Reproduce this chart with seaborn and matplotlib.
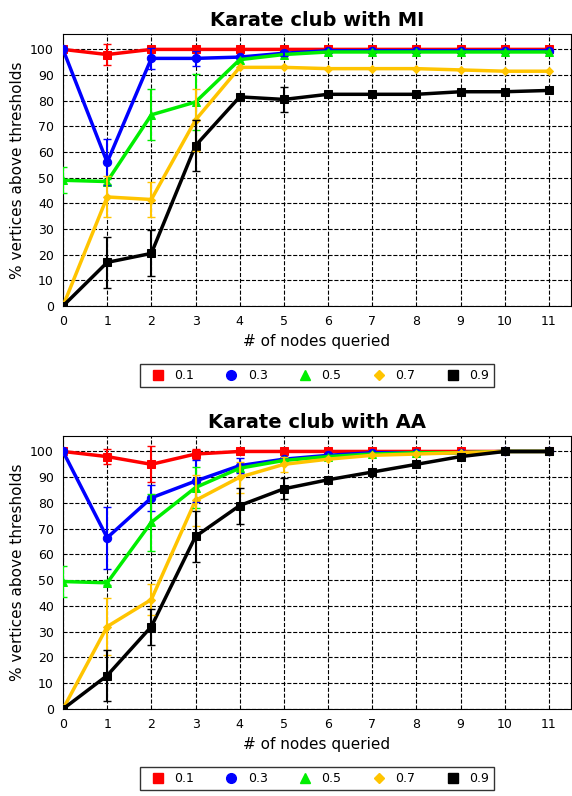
import matplotlib
matplotlib.use("Agg")
import matplotlib.pyplot as plt
import seaborn as sns
import numpy as np
import pandas as pd
from matplotlib.lines import Line2D

sns.set_style("white")
plt.rcParams['font.family'] = ['DejaVu Sans']
plt.rcParams['text.color'] = 'black'
plt.rcParams['axes.labelcolor'] = 'black'
plt.rcParams['xtick.color'] = 'black'
plt.rcParams['ytick.color'] = 'black'

x = list(range(12))
labels = ["0.1", "0.3", "0.5", "0.7", "0.9"]
colors = ["#ff0000", "#0000ff", "#00ee00", "#ffc400", "#000000"]
markers = ["s", "o", "^", "D", "s"]
msizes = [6, 6, 6, 4, 5.5]

mi_vals = [
    [100, 98, 100, 100, 100, 100, 100, 100, 100, 100, 100, 100],
    [100, 56, 96.5, 96.5, 97, 98.5, 99.5, 99.5, 99.5, 99.5, 99.5, 99.5],
    [49, 48.5, 74.5, 79.5, 96, 98, 99, 99, 99, 99, 99, 99],
    [0, 42.5, 41.5, 72.5, 93, 93, 92.5, 92.5, 92.5, 92, 91.5, 91.5],
    [0, 17, 20.5, 62.5, 81.5, 80.5, 82.5, 82.5, 82.5, 83.5, 83.5, 84],
]
mi_err = [
    [0, 4, 0, 0, 0, 0, 0, 0, 0, 0, 0, 0],
    [0, 9, 4, 3, 0, 1, 0, 0, 0, 0, 0, 0],
    [5, 1, 10, 11, 0, 0, 0, 0, 0, 0, 0, 0],
    [0, 8, 7, 12, 0, 0, 0, 0, 0, 0, 0, 0],
    [0, 10, 9, 10, 0, 5, 0, 0, 0, 0, 0, 0],
]
aa_vals = [
    [100, 98, 95, 99, 100, 100, 100, 100, 100, 100, 100, 100],
    [100, 66.5, 82, 88.5, 94.5, 97, 98.5, 99.5, 99.5, 99.5, 100, 100],
    [49.5, 49, 72.5, 86, 93.5, 96.5, 98, 99, 99.5, 99.5, 100, 100],
    [0, 32, 42.5, 81, 90, 95, 97, 98.5, 99, 99.5, 100, 100],
    [0, 13, 32, 67, 79, 85.5, 89, 92, 95, 98, 100, 100],
]
aa_err = [
    [0, 3, 7, 2, 0, 0, 0, 0, 0, 0, 0, 0],
    [0, 12, 5, 8, 3, 0, 0, 0, 0, 0, 0, 0],
    [6, 1, 11, 8, 0, 0, 0, 0, 0, 0, 0, 0],
    [0, 11, 6, 10, 6, 3, 0, 0, 0, 0, 0, 0],
    [0, 10, 7, 10, 7, 4, 0, 0, 0, 0, 0, 0],
]

W, H = 572, 796
fig = plt.figure(figsize=(W / 100, H / 100), dpi=100)

def draw(ax, vals, errs, title):
    for lab, c, m, ms, v, e in zip(labels, colors, markers, msizes, vals, errs):
        df = pd.DataFrame({"x": x, "y": v})
        sns.lineplot(data=df, x="x", y="y", ax=ax, color=c, marker=m, markersize=ms,
                     markeredgecolor=c, linewidth=2.5, zorder=3)
        ea = np.array(e)
        mask = ea > 0
        if mask.any():
            ax.errorbar(np.array(x)[mask], np.array(v)[mask], yerr=ea[mask], fmt="none",
                        ecolor=c, elinewidth=1.5, capsize=3, zorder=4)
    ax.set_xlim(0, 11.5)
    ax.set_ylim(0, 106)
    ax.set_xticks(range(12))
    ax.set_yticks(range(0, 101, 10))
    ax.tick_params(labelsize=9, length=3)
    ax.grid(True, color="black", linestyle="--", linewidth=0.8)
    for s in ax.spines.values():
        s.set_color("black")
    ax.set_xlabel("# of nodes queried", fontsize=11, color="black")
    ax.set_ylabel("% vertices above thresholds", fontsize=11, color="black")
    ax.set_title(title, fontsize=14, fontweight="bold", pad=6, color="black")
    handles = [Line2D([], [], color=c, marker=m, linestyle="none", markersize=ms + 1, label=l)
               for l, c, m, ms in zip(labels, colors, markers, msizes)]
    leg = ax.legend(handles=handles, loc="upper center", bbox_to_anchor=(0.5, -0.19), ncol=5,
                    frameon=True, fancybox=False, fontsize=9, handletextpad=0.3, columnspacing=2.0,
                    borderpad=0.4)
    leg.get_frame().set_edgecolor("black")

ax1 = fig.add_axes([63 / W, 1 - 306 / H, 508 / W, 272 / H])
ax2 = fig.add_axes([63 / W, 1 - 709 / H, 508 / W, 273 / H])
draw(ax1, mi_vals, mi_err, "Karate club with MI")
draw(ax2, aa_vals, aa_err, "Karate club with AA")
fig.savefig("out.png", dpi=100)
